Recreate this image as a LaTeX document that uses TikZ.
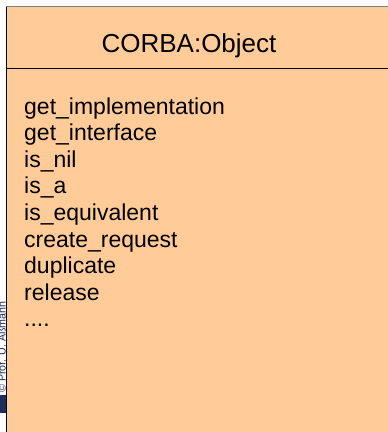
\documentclass[tikz,border=0pt]{standalone}
\usepackage{fontspec}
\setmainfont{Liberation Sans}
\usetikzlibrary{positioning}
\definecolor{clsFill}{HTML}{FFCC99}
\definecolor{clsEdge}{HTML}{7F7F7F}
\definecolor{wmNavy} {HTML}{1C2E5C}

\begin{document}
\begin{tikzpicture}[x=1pt,y=-1pt,
      title/.style={inner sep=0pt,anchor=base,font=\fontsize{26}{30}\selectfont},
      op/.style={inner sep=0pt,anchor=base west,font=\fontsize{23}{26.6}\selectfont}]
    \useasboundingbox (0,0) rectangle (388,432);
    \clip (0,0) rectangle (388,432);

    % class box, cut off on the right and at the bottom
    \fill[clsFill] (6.5,6.5) rectangle (392,436);
    \draw[clsEdge,line width=1.2pt] (6,6.5) -- (392,6.5);
    \draw[black,line width=1pt] (6.5,6.5) -- (6.5,436);
    \draw[black,line width=1pt] (6.5,68) -- (392,68);

    % name compartment
    \node[title] (cls) at (189,52.5) {CORBA:Object};

    % operations, one per line
    \foreach \o [count=\k] in {get\_implementation,get\_interface,is\_nil,is\_a,
        is\_equivalent,create\_request,duplicate,release}
      \node[op] (op\k) at (24,{114+26.6*(\k-1)}) {\o};
    \node[op] (op9) at (24,{114+26.6*8}) {....};

    % slide watermark, mostly hidden behind the box
    \begin{scope}
      \clip (0,0) rectangle (6,432);
      \node[inner sep=0pt,rotate=90,anchor=base west,text=wmNavy,
            font=\fontsize{10.7}{12}\selectfont] (wm) at (5.5,393) {© Prof. U. Aßmann};
      \fill[wmNavy] (0,395) rectangle (6,413);
    \end{scope}
  \end{tikzpicture}
\end{document}
